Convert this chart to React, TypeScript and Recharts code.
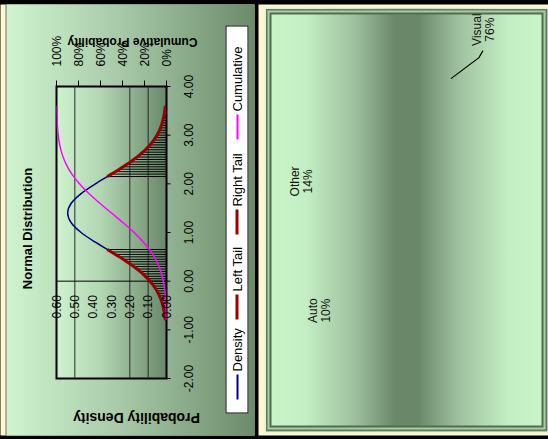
import { ComposedChart, Line, XAxis, YAxis, ReferenceLine, ReferenceArea, ErrorBar, PieChart, Pie, Cell } from 'recharts'

// normal curve at 0.2 steps
const curveX = [-0.8, -0.6, -0.4, -0.2, 0, 0.2, 0.4, 0.6, 0.8, 1.0, 1.2, 1.4, 1.6, 1.8, 2.0, 2.2, 2.4, 2.6, 2.8, 3.0, 3.2, 3.4, 3.6]
const densityValues = [0.0065, 0.014, 0.028, 0.0521, 0.09, 0.1448, 0.2163, 0.3006, 0.388, 0.4657, 0.5198, 0.5391, 0.5198, 0.4657, 0.388, 0.3006, 0.2163, 0.1448, 0.09, 0.0521, 0.028, 0.014, 0.0065]
const cumulativeValues = [0.0015, 0.0034, 0.0075, 0.0153, 0.0293, 0.0524, 0.0883, 0.1398, 0.2087, 0.2943, 0.3936, 0.5, 0.6064, 0.7057, 0.7913, 0.8602, 0.9117, 0.9476, 0.9707, 0.9847, 0.9925, 0.9966, 0.9985]

// shaded tails, 0.05 steps
const leftTailX = [-0.8, -0.75, -0.7, -0.65, -0.6, -0.55, -0.5, -0.45, -0.4, -0.35, -0.3, -0.25, -0.2, -0.15, -0.1, -0.05, 0, 0.05, 0.1, 0.15, 0.2, 0.25, 0.3, 0.35, 0.4, 0.45, 0.5, 0.55, 0.6, 0.65]
const leftTailValues = [0.0065, 0.0079, 0.0096, 0.0116, 0.014, 0.0168, 0.02, 0.0237, 0.028, 0.0329, 0.0385, 0.0449, 0.0521, 0.0601, 0.0691, 0.079, 0.09, 0.1021, 0.1152, 0.1294, 0.1448, 0.1611, 0.1786, 0.197, 0.2163, 0.2364, 0.2573, 0.2787, 0.3005, 0.3226]
const rightTailX = [2.15, 2.2, 2.25, 2.3, 2.35, 2.4, 2.45, 2.5, 2.55, 2.6, 2.65, 2.7, 2.75, 2.8, 2.85, 2.9, 2.95, 3.0, 3.05, 3.1, 3.15, 3.2, 3.25, 3.3, 3.35, 3.4, 3.45, 3.5, 3.55, 3.6]
const rightTailValues = [0.3226, 0.3005, 0.2787, 0.2573, 0.2364, 0.2163, 0.197, 0.1786, 0.1611, 0.1448, 0.1294, 0.1152, 0.1021, 0.09, 0.079, 0.0691, 0.0601, 0.0521, 0.0449, 0.0385, 0.0329, 0.028, 0.0237, 0.02, 0.0168, 0.014, 0.0116, 0.0096, 0.0079, 0.0065]

const xTicks = [-2, -1, 0, 1, 2, 3, 4]
const densityTicks = [0, 0.1, 0.2, 0.3, 0.4, 0.5, 0.6]
const densityGrid = [0.1, 0.2, 0.5]
const cumulativeTicks = [0, 0.2, 0.4, 0.6, 0.8, 1]

const legendNames = ['Density', 'Left Tail', 'Right Tail', 'Cumulative']
const legendColors = ['#000080', '#990000', '#990000', '#ff00ff']
const legendSlot = [80, 85, 95, 100]

// pie panel
const pieNames = ['Auto', 'Other', 'Visual']
const pieValues = [10, 14, 76]
const pieLabelShift = [[-49, -64], [44, -18], [49, 32]]

const density = curveX.map((x, i) => ({ x, y: densityValues[i] }))
const cumulative = curveX.map((x, i) => ({ x, y: cumulativeValues[i] }))
const leftTail = leftTailX.map((x, i) => ({ x, y: leftTailValues[i], drop: [leftTailValues[i], 0] }))
const rightTail = rightTailX.map((x, i) => ({ x, y: rightTailValues[i], drop: [rightTailValues[i], 0] }))
const pieData = pieNames.map((name, i) => ({ name, value: pieValues[i] }))

const FONT = '"Liberation Sans", Arial, sans-serif'
const CHART_W = 431
const CHART_H = 248
const PLOT_LEFT = 57
const PLOT_TOP = 50
const PLOT_W = 292
const PLOT_H = 110
const zeroX = PLOT_LEFT + (PLOT_W * 2) / 6

const RADIAN = Math.PI / 180

function DensityTick({ y, payload }: any) {
  return (
    <text x={zeroX - 14} y={y} dy={4} textAnchor="end" fontSize={12} fill="#000">
      {payload.value.toFixed(2)}
    </text>
  )
}

function renderPieLabel({ cx, cy, midAngle, outerRadius, index, name, percent }: any) {
  const ex = cx + outerRadius * Math.cos(-midAngle * RADIAN)
  const ey = cy + outerRadius * Math.sin(-midAngle * RADIAN)
  const lx = ex + pieLabelShift[index][0]
  const ly = ey + pieLabelShift[index][1]
  return (
    <g key={name}>
      {index === 2 && (
        <polyline
          points={`${ex},${ey} ${lx - 28},${ly - 4} ${lx - 21},${ly}`}
          fill="none"
          stroke="#000"
          strokeWidth={1.2}
        />
      )}
      <text x={lx} y={ly - 2} textAnchor="middle" fontSize={12} fill="#111">
        {name}
      </text>
      <text x={lx} y={ly + 11} textAnchor="middle" fontSize={12} fill="#111">
        {`${Math.round(percent * 100)}%`}
      </text>
    </g>
  )
}

function AxisTitle({ x, y, text, size, rotate }: { x: number; y: number; text: string; size: number; rotate?: boolean }) {
  return (
    <div
      style={{
        position: 'absolute',
        left: x,
        top: y,
        transform: `translate(-50%, -50%)${rotate ? ' rotate(-90deg)' : ''}`,
        whiteSpace: 'nowrap',
        fontWeight: 'bold',
        fontSize: size,
        color: '#000',
      }}
    >
      {text}
    </div>
  )
}

export default function App() {
  return (
    <div style={{ position: 'fixed', left: 0, top: 0, width: 548, height: 439, overflow: 'hidden', background: '#000' }}>
      {/* drawn upright, then turned a quarter turn like the original picture */}
      <div
        style={{
          position: 'absolute',
          left: 54.5,
          top: -54.5,
          width: 439,
          height: 548,
          transform: 'rotate(-90deg)',
          background: '#000',
          fontFamily: FONT,
        }}
      >
        {/* left panel: normal distribution */}
        <div style={{ position: 'absolute', left: 4, top: 0, width: 431, height: 254, background: '#fdf7d2' }} />
        <div
          style={{
            position: 'absolute',
            left: 4,
            top: 5,
            width: CHART_W,
            height: CHART_H + 1,
            borderTop: '1px solid #6a6a6a',
            boxSizing: 'border-box',
            background: 'linear-gradient(to bottom, #cff4cf 0%, #a9caa9 45%, #6b8b6b 100%)',
          }}
        />
        <div style={{ position: 'absolute', left: 4, top: 6 }}>
          <ComposedChart width={CHART_W} height={CHART_H} margin={{ top: PLOT_TOP, right: 0, bottom: 0, left: 0 }}>
            <defs>
              <linearGradient id="plotFill" x1="0" y1="0" x2="0" y2="1">
                <stop offset="0%" stopColor="#cdf3cd" />
                <stop offset="40%" stopColor="#b3d6b3" />
                <stop offset="100%" stopColor="#6a886a" />
              </linearGradient>
            </defs>
            <XAxis
              type="number"
              dataKey="x"
              domain={[-2, 4]}
              ticks={xTicks}
              interval={0}
              tickFormatter={(v: number) => v.toFixed(2)}
              axisLine={false}
              tickLine={{ stroke: '#000' }}
              tickSize={4}
              tickMargin={14}
              height={CHART_H - PLOT_TOP - PLOT_H}
              tick={{ fill: '#000', fontSize: 12 }}
              allowDataOverflow
            />
            <YAxis
              yAxisId="d"
              type="number"
              domain={[0, 0.6]}
              ticks={densityTicks}
              interval={0}
              width={PLOT_LEFT}
              axisLine={false}
              tickLine={false}
              tick={<DensityTick />}
              allowDataOverflow
            />
            <YAxis
              yAxisId="c"
              orientation="right"
              type="number"
              domain={[0, 1]}
              ticks={cumulativeTicks}
              interval={0}
              tickFormatter={(v: number) => `${Math.round(v * 100)}%`}
              width={CHART_W - PLOT_LEFT - PLOT_W}
              axisLine={false}
              tickLine={{ stroke: '#000' }}
              tickSize={6}
              tickMargin={14}
              tick={{ fill: '#000', fontSize: 12 }}
              allowDataOverflow
            />
            <ReferenceArea yAxisId="d" x1={-2} x2={4} y1={0} y2={0.6} fill="url(#plotFill)" fillOpacity={1} stroke="none" />
            {densityGrid.map((v) => (
              <ReferenceLine key={v} yAxisId="d" y={v} stroke="#2a2a2a" strokeWidth={1} />
            ))}
            <ReferenceLine yAxisId="d" x={0} stroke="#000" strokeWidth={1} />
            <Line data={leftTail} yAxisId="d" dataKey="y" stroke="none" dot={false} isAnimationActive={false}>
              <ErrorBar dataKey="drop" width={0} stroke="#000" strokeWidth={1} direction="y" />
            </Line>
            <Line data={rightTail} yAxisId="d" dataKey="y" stroke="none" dot={false} isAnimationActive={false}>
              <ErrorBar dataKey="drop" width={0} stroke="#000" strokeWidth={1} direction="y" />
            </Line>
            <Line data={density} yAxisId="d" dataKey="y" type="monotone" stroke="#000080" strokeWidth={1.5} dot={false} isAnimationActive={false} />
            <Line data={leftTail} yAxisId="d" dataKey="y" type="monotone" stroke="#990000" strokeWidth={3} dot={false} isAnimationActive={false} />
            <Line data={rightTail} yAxisId="d" dataKey="y" type="monotone" stroke="#990000" strokeWidth={3} dot={false} isAnimationActive={false} />
            <Line data={cumulative} yAxisId="c" dataKey="y" type="monotone" stroke="#ff00ff" strokeWidth={1.5} dot={false} isAnimationActive={false} />
            <ReferenceArea yAxisId="d" x1={-2} x2={4} y1={0} y2={0.6} fill="none" stroke="#000" strokeWidth={2} />
          </ComposedChart>
        </div>
        <div style={{ position: 'absolute', left: 4, top: 6, width: CHART_W, height: CHART_H, pointerEvents: 'none' }}>
          <AxisTitle x={207} y={21} size={13} text="Normal Distribution" />
          <AxisTitle x={18} y={130} size={14} text="Probability Density" rotate />
          <AxisTitle x={394} y={126} size={12} text="Cumulative Probability" rotate />
          <div
            style={{
              position: 'absolute',
              left: 22,
              top: 219,
              width: 388,
              height: 23,
              background: '#fff',
              border: '1px solid #000',
              boxSizing: 'border-box',
              display: 'flex',
              alignItems: 'center',
              paddingLeft: 13,
              fontSize: 13,
              whiteSpace: 'nowrap',
            }}
          >
            {legendNames.map((n, i) => (
              <div key={n} style={{ display: 'flex', alignItems: 'center', width: legendSlot[i], flexShrink: 0 }}>
                <div style={{ width: 25, height: i === 0 || i === 3 ? 2 : 3, background: legendColors[i], marginRight: 3 }} />
                <span>{n}</span>
              </div>
            ))}
          </div>
        </div>

        {/* right panel: pie */}
        <div style={{ position: 'absolute', left: 4, top: 258, width: 431, height: 290, background: '#fdf7d2' }} />
        <div
          style={{
            position: 'absolute',
            left: 7,
            top: 264,
            width: 425,
            height: 284,
            boxSizing: 'border-box',
            border: '1px solid #e6eedc',
            background:
              'linear-gradient(to bottom, #c9f5c9 0%, #c4efc4 14%, #9ebf9e 32%, #6a876a 46%, #6a876a 54%, #9ebf9e 68%, #c4efc4 86%, #c9f5c9 100%)',
            boxShadow: 'inset 0 0 0 2px #5e7e5e, inset 0 0 0 4px #a9cca4, inset 0 0 0 6px #4f6e4f',
          }}
        />
        <div style={{ position: 'absolute', left: 14, top: 271 }}>
          <PieChart width={413} height={270} margin={{ top: 0, right: 0, bottom: 0, left: 0 }}>
            <Pie
              data={pieData}
              dataKey="value"
              nameKey="name"
              cx={263}
              cy={125}
              outerRadius={100}
              startAngle={190.2}
              endAngle={-169.8}
              label={renderPieLabel}
              labelLine={false}
              isAnimationActive={false}
            >
              {pieData.map((d) => (
                <Cell key={d.name} fill="transparent" stroke="none" />
              ))}
            </Pie>
          </PieChart>
        </div>
      </div>
    </div>
  )
}
